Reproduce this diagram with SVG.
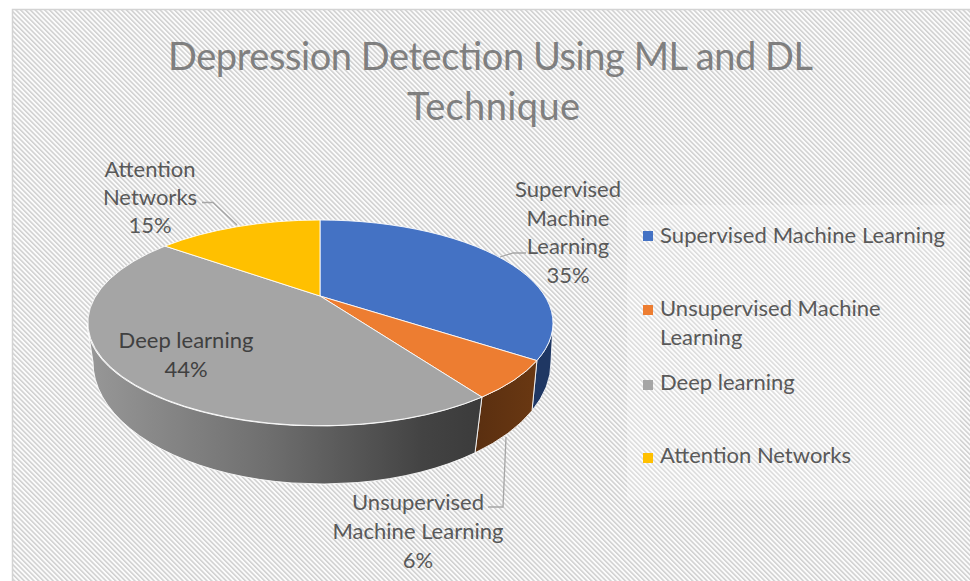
<svg xmlns="http://www.w3.org/2000/svg" width="970" height="581" viewBox="0 0 970 581">
  <defs>
    <!-- diagonal hatch used as the chart area fill -->
    <pattern id="hatch" patternUnits="userSpaceOnUse" width="3.4" height="3.4" patternTransform="rotate(-45)">
      <rect x="0" y="0" width="3.4" height="3.4" fill="#fcfcfc"/>
      <rect x="0" y="0" width="1.5" height="3.4" fill="#cfcfcf"/>
    </pattern>
    <linearGradient id="graySide" gradientUnits="userSpaceOnUse" x1="90" y1="0" x2="482" y2="0">
      <stop offset="0" stop-color="#979797"/>
      <stop offset="0.45" stop-color="#6f6f6f"/>
      <stop offset="0.85" stop-color="#434343"/>
      <stop offset="1" stop-color="#3b3b3b"/>
    </linearGradient>
    <linearGradient id="brownSide" gradientUnits="userSpaceOnUse" x1="475" y1="0" x2="537" y2="0">
      <stop offset="0" stop-color="#5a2f10"/>
      <stop offset="1" stop-color="#6a3812"/>
    </linearGradient>
    <style>
      .slice { stroke: #ffffff; stroke-width: 1; stroke-linejoin: round; stroke-opacity: 0.85; }
      .lbl { font-family: Lato, "Open Sans", "Liberation Sans", sans-serif; font-size: 22px; fill: #595959; text-anchor: middle; }
      .lbl-dark { fill: #404040; }
      .leg { font-family: Lato, "Open Sans", "Liberation Sans", sans-serif; font-size: 22px; fill: #595959; }
      .title { font-family: Lato, "Open Sans", "Liberation Sans", sans-serif; font-size: 38px; fill: #7f7f7f; }
      .leader { fill: none; stroke: #a6a6a6; stroke-width: 1.3; }
    </style>
  </defs>

  <!-- page and chart frame -->
  <rect x="0" y="0" width="970" height="581" fill="#ffffff"/>
  <rect x="12.5" y="9.5" width="970" height="590" fill="url(#hatch)" stroke="#d3d3d3" stroke-width="1.5"/>

  <!-- title -->
  <g id="title">
    <text class="title" x="168" y="70" textLength="645" lengthAdjust="spacing">Depression Detection Using ML and DL</text>
    <text class="title" x="407" y="120" textLength="173" lengthAdjust="spacing">Technique</text>
  </g>

  <!-- 3D pie: side walls first, then top faces -->
  <g id="slice-supervised">
    <path class="slice" fill="#1f3763" d="M553,323 A233,103 0 0 1 536.9,360.6 L532,410.7 A229,122 0 0 0 551,362 Z"/>
    <path class="slice" fill="#4472c4" d="M320,296 L320,220 A233,103 0 0 1 536.9,360.6 Z"/>
  </g>
  <g id="slice-unsupervised">
    <path class="slice" fill="url(#brownSide)" d="M536.9,360.6 A233,103 0 0 1 481.9,397.1 L475,452.8 A229,122 0 0 0 532,410.7 Z"/>
    <path class="slice" fill="#ed7d31" d="M320,296 L536.9,360.6 A233,103 0 0 1 481.9,397.1 Z"/>
  </g>
  <g id="slice-deep">
    <path class="slice" fill="url(#graySide)" d="M481.9,397.1 A233,103 0 0 1 87,323 L93,362 A229,122 0 0 0 475,452.8 Z"/>
    <path class="slice" fill="#a5a5a5" d="M320,296 L481.9,397.1 A233,103 0 1 1 165,246.1 Z"/>
  </g>
  <g id="slice-attention">
    <path class="slice" fill="#ffc000" d="M320,296 L165,246.1 A233,103 0 0 1 320,220 Z"/>
  </g>

  <!-- data label leader lines -->
  <g id="connectors">
    <polyline class="leader" points="202,202.5 213,202.5 237,225"/>
    <polyline class="leader" points="500,257 513,253 526,253"/>
    <polyline class="leader" points="488,507 503,507 506,437"/>
  </g>

  <!-- data labels -->
  <g id="label-attention">
    <text class="lbl" x="150" y="177">Attention</text>
    <text class="lbl" x="150" y="205">Networks</text>
    <text class="lbl" x="150" y="233">15%</text>
  </g>
  <g id="label-supervised">
    <text class="lbl" x="568" y="197">Supervised</text>
    <text class="lbl" x="568" y="225.5">Machine</text>
    <text class="lbl" x="568" y="254">Learning</text>
    <text class="lbl" x="568" y="282.5">35%</text>
  </g>
  <g id="label-deep">
    <text class="lbl lbl-dark" x="186" y="348">Deep learning</text>
    <text class="lbl lbl-dark" x="186" y="377">44%</text>
  </g>
  <g id="label-unsupervised">
    <text class="lbl" x="418" y="510">Unsupervised</text>
    <text class="lbl" x="418" y="539">Machine Learning</text>
    <text class="lbl" x="418" y="568">6%</text>
  </g>

  <!-- legend -->
  <g id="legend">
    <rect x="627" y="205" width="333" height="295" fill="#ffffff" fill-opacity="0.25"/>
    <g id="legend-supervised">
      <rect x="643" y="231" width="10" height="10" fill="#4472c4"/>
      <text class="leg" x="660" y="243" textLength="285" lengthAdjust="spacing">Supervised Machine Learning</text>
    </g>
    <g id="legend-unsupervised">
      <rect x="643" y="305" width="10" height="10" fill="#ed7d31"/>
      <text class="leg" x="660" y="316">Unsupervised Machine</text>
      <text class="leg" x="660" y="345">Learning</text>
    </g>
    <g id="legend-deep">
      <rect x="643" y="380" width="10" height="10" fill="#a5a5a5"/>
      <text class="leg" x="660" y="390">Deep learning</text>
    </g>
    <g id="legend-attention">
      <rect x="643" y="453" width="10" height="10" fill="#ffc000"/>
      <text class="leg" x="660" y="463">Attention Networks</text>
    </g>
  </g>
</svg>
